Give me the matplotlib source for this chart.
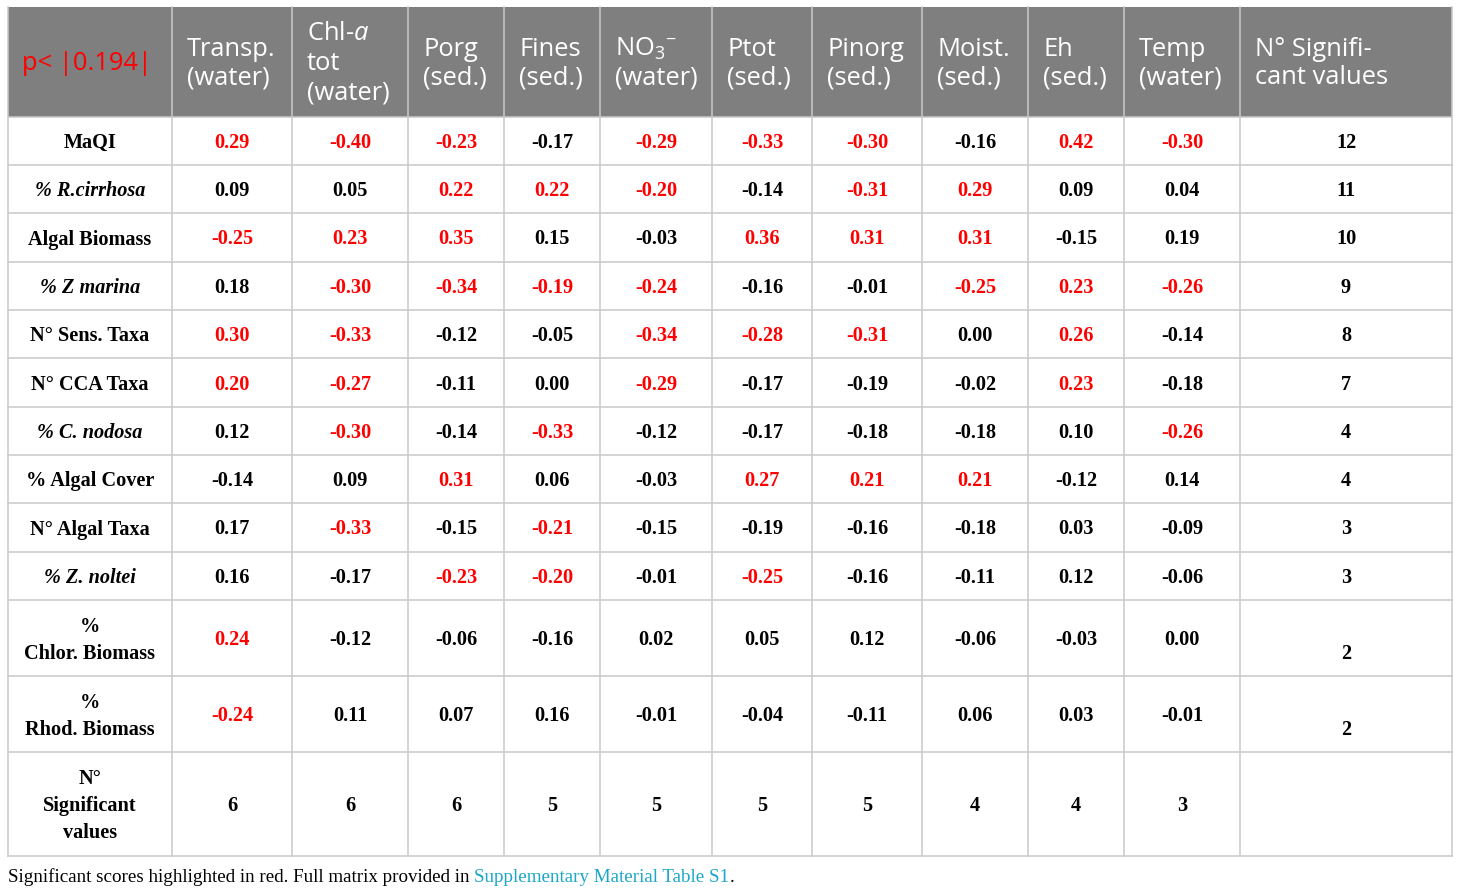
import numpy as np
import matplotlib.pyplot as plt
from matplotlib.patches import Rectangle

plt.rcParams['mathtext.fontset'] = 'custom'
plt.rcParams['mathtext.rm'] = 'Open Sans'
plt.rcParams['mathtext.it'] = 'Open Sans:italic'

# table content
row_labels = ["MaQI", "% R.cirrhosa", "Algal Biomass", "% Z marina", "N° Sens. Taxa",
              "N° CCA Taxa", "% C. nodosa", "% Algal Cover", "N° Algal Taxa",
              "% Z. noltei", "%\nChlor. Biomass", "%\nRhod. Biomass"]
italic_rows = ["% R.cirrhosa", "% Z marina", "% C. nodosa", "% Z. noltei"]

col_headers = [["Transp.", "(water)"],
               ["Chl-$\\mathit{a}$", "tot", "(water)"],
               ["Porg", "(sed.)"],
               ["Fines", "(sed.)"],
               ["NO$_{3}{}^{-}$", "(water)"],
               ["Ptot", "(sed.)"],
               ["Pinorg", "(sed.)"],
               ["Moist.", "(sed.)"],
               ["Eh", "(sed.)"],
               ["Temp", "(water)"],
               ["N° Signifi-", "cant values"]]

values = [
    [0.29, -0.40, -0.23, -0.17, -0.29, -0.33, -0.30, -0.16, 0.42, -0.30],
    [0.09, 0.05, 0.22, 0.22, -0.20, -0.14, -0.31, 0.29, 0.09, 0.04],
    [-0.25, 0.23, 0.35, 0.15, -0.03, 0.36, 0.31, 0.31, -0.15, 0.19],
    [0.18, -0.30, -0.34, -0.19, -0.24, -0.16, -0.01, -0.25, 0.23, -0.26],
    [0.30, -0.33, -0.12, -0.05, -0.34, -0.28, -0.31, 0.00, 0.26, -0.14],
    [0.20, -0.27, -0.11, 0.00, -0.29, -0.17, -0.19, -0.02, 0.23, -0.18],
    [0.12, -0.30, -0.14, -0.33, -0.12, -0.17, -0.18, -0.18, 0.10, -0.26],
    [-0.14, 0.09, 0.31, 0.06, -0.03, 0.27, 0.21, 0.21, -0.12, 0.14],
    [0.17, -0.33, -0.15, -0.21, -0.15, -0.19, -0.16, -0.18, 0.03, -0.09],
    [0.16, -0.17, -0.23, -0.20, -0.01, -0.25, -0.16, -0.11, 0.12, -0.06],
    [0.24, -0.12, -0.06, -0.16, 0.02, 0.05, 0.12, -0.06, -0.03, 0.00],
    [-0.24, 0.11, 0.07, 0.16, -0.01, -0.04, -0.11, 0.06, 0.03, -0.01],
]
# significant (shown in red)
signif = [
    [1, 1, 1, 0, 1, 1, 1, 0, 1, 1],
    [0, 0, 1, 1, 1, 0, 1, 1, 0, 0],
    [1, 1, 1, 0, 0, 1, 1, 1, 0, 0],
    [0, 1, 1, 1, 1, 0, 0, 1, 1, 1],
    [1, 1, 0, 0, 1, 1, 1, 0, 1, 0],
    [1, 1, 0, 0, 1, 0, 0, 0, 1, 0],
    [0, 1, 0, 1, 0, 0, 0, 0, 0, 1],
    [0, 0, 1, 0, 0, 1, 1, 1, 0, 0],
    [0, 1, 0, 1, 0, 0, 0, 0, 0, 0],
    [0, 0, 1, 1, 0, 1, 0, 0, 0, 0],
    [1, 0, 0, 0, 0, 0, 0, 0, 0, 0],
    [1, 0, 0, 0, 0, 0, 0, 0, 0, 0],
]
row_counts = [12, 11, 10, 9, 8, 7, 4, 4, 3, 3, 2, 2]
col_counts = [6, 6, 6, 5, 5, 5, 5, 4, 4, 3]
threshold = "p< |0.194|"

# layout (pixels)
col_edges = [8, 172, 292, 408, 504, 600, 712, 812, 922, 1028, 1124, 1240, 1452]
row_edges = [7, 117, 165, 213, 262, 310, 358, 407, 455, 503, 552, 600, 676, 752, 856]

RED = '#ff0000'
GRID = '#c9c9c9'
HEAD = '#7f7f7f'
serif = 'Liberation Serif'
sans = 'Open Sans'
fs = 14.6
hfs = 18.4
dy_txt = 2  # small downward nudge for serif text

fig = plt.figure(figsize=(14.6, 8.93), dpi=100)
ax = fig.add_axes([0, 0, 1, 1])
ax.set_xlim(0, 1460)
ax.set_ylim(893, 0)
ax.axis('off')

# header background
ax.add_patch(Rectangle((col_edges[0], row_edges[0]), col_edges[-1] - col_edges[0],
                       row_edges[1] - row_edges[0], color=HEAD, lw=0))

# grid
for x in col_edges:
    ax.plot([x, x], [row_edges[0], row_edges[-1]], color=GRID, lw=1.1)
for y in row_edges[1:]:
    ax.plot([col_edges[0], col_edges[-1]], [y, y], color=GRID, lw=1.1)

# header text
ax.text(col_edges[0] + 14, 63, threshold, color=RED, fontsize=hfs, family=sans,
        va='center', ha='left')
for j, lines in enumerate(col_headers):
    x0 = col_edges[j + 1] + 15
    if len(lines) == 3:
        ys = [34, 63, 93]
    else:
        ys = [49, 78]
    for line, y in zip(lines, ys):
        ax.text(x0, y, line, color='white', fontsize=hfs, family=sans,
                va='center', ha='left')

# body
xc = [(col_edges[k] + col_edges[k + 1]) / 2 for k in range(len(col_edges) - 1)]
for i, lab in enumerate(row_labels):
    y0, y1 = row_edges[i + 1], row_edges[i + 2]
    yc = (y0 + y1) / 2 + dy_txt
    style = 'italic' if lab in italic_rows else 'normal'
    if '\n' in lab:
        l1, l2 = lab.split('\n')
        ax.text(xc[0], yc - 13, l1, fontsize=fs, family=serif, weight='bold',
                ha='center', va='center')
        ax.text(xc[0], yc + 14, l2, fontsize=fs, family=serif, weight='bold',
                ha='center', va='center')
        ycount = yc + 14
    else:
        ax.text(xc[0], yc, lab, fontsize=fs, family=serif, weight='bold',
                style=style, ha='center', va='center')
        ycount = yc
    for j, v in enumerate(values[i]):
        ax.text(xc[j + 1], yc, f"{v:.2f}", fontsize=fs, family=serif, weight='bold',
                color=RED if signif[i][j] else 'black', ha='center', va='center')
    ax.text(xc[-1], ycount, str(row_counts[i]), fontsize=fs, family=serif,
            weight='bold', ha='center', va='center')

# last row: column counts
y0, y1 = row_edges[-2], row_edges[-1]
yc = (y0 + y1) / 2 + dy_txt
for line, dy in zip(["N°", "Significant", "values"], [-27, 0, 27]):
    ax.text(xc[0], yc + dy, line, fontsize=fs, family=serif, weight='bold',
            ha='center', va='center')
for j, c in enumerate(col_counts):
    ax.text(xc[j + 1], yc, str(c), fontsize=fs, family=serif, weight='bold',
            ha='center', va='center')

# footnote
t1 = ax.text(8, 882, "Significant scores highlighted in red. Full matrix provided in ",
             fontsize=13.7, family=serif, ha='left', va='baseline')
t2 = ax.annotate("Supplementary Material Table S1", xy=(1, 0), xycoords=t1,
                 fontsize=13.7, family=serif, color='#1aa7c9', ha='left', va='bottom')
ax.annotate(".", xy=(1, 0), xycoords=t2, fontsize=13.7, family=serif,
            ha='left', va='bottom')

fig.savefig('out.png', dpi=100)
